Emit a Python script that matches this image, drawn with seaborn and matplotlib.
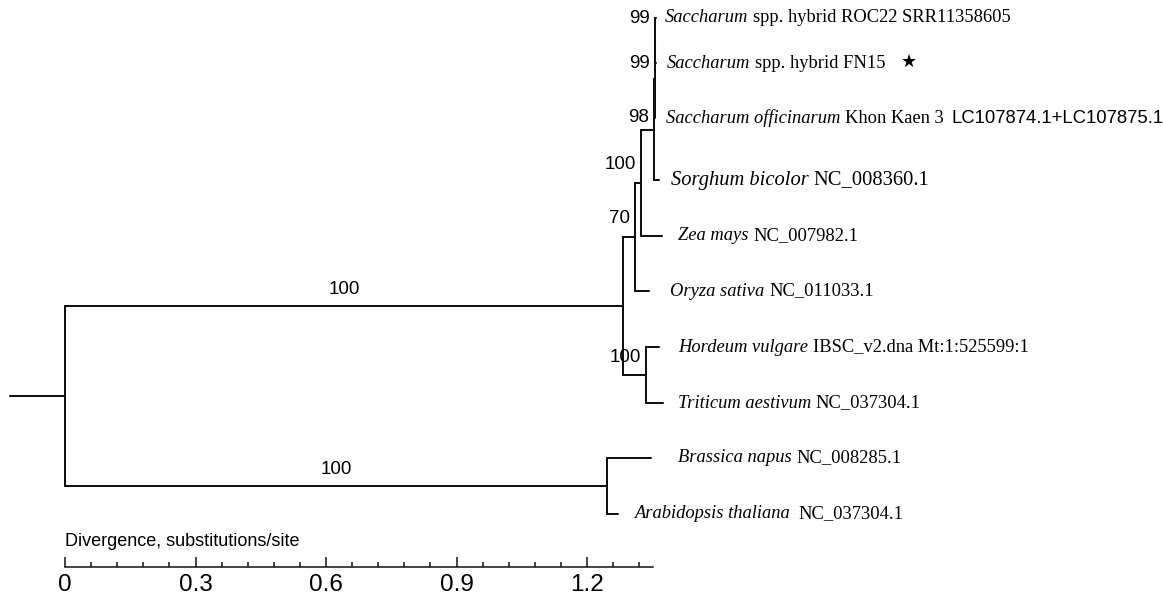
import numpy as np
import pandas as pd
import matplotlib
matplotlib.use("Agg")
import matplotlib.pyplot as plt
import seaborn as sns

# ---------------- data ----------------
leaf_ids = ["ROC22", "FN15", "KhonKaen3", "Sorghum", "Zea", "Oryza",
            "Hordeum", "Triticum", "Brassica", "Arabidopsis"]
leaf_italic = ["Saccharum", "Saccharum", "Saccharum officinarum", "Sorghum bicolor",
               "Zea mays", "Oryza sativa", "Hordeum vulgare", "Triticum aestivum",
               "Brassica napus", "Arabidopsis thaliana"]
leaf_roman = ["spp. hybrid ROC22 SRR11358605", "spp. hybrid FN15", "Khon Kaen 3",
              "NC_008360.1", "NC_007982.1", "NC_011033.1", "IBSC_v2.dna Mt:1:525599:1",
              "NC_037304.1", "NC_008285.1", "NC_037304.1"]
leaf_extra = ["", "", "LC107874.1+LC107875.1", "", "", "", "", "", "", ""]
leaf_marked = ["FN15"]

# tree: node, parent, branch length (substitutions/site), bootstrap
node_names = ["monocots", "dicots", "HT", "OZ", "ZS", "SS", "SK", "RF",
              "ROC22", "FN15", "KhonKaen3", "Sorghum", "Zea", "Oryza",
              "Hordeum", "Triticum", "Brassica", "Arabidopsis"]
node_parent = ["root", "root", "monocots", "monocots", "OZ", "ZS", "SS", "SK",
               "RF", "RF", "SK", "SS", "ZS", "OZ",
               "HT", "HT", "dicots", "dicots"]
branch_length = [1.283, 1.246, 0.053, 0.028, 0.014, 0.030, 0.001, 0.001,
                 0.001, 0.001, 0.001, 0.010, 0.048, 0.032,
                 0.030, 0.038, 0.101, 0.025]
bootstrap = [100, 100, 100, 70, 100, 98, 99, 99,
             None, None, None, None, None, None, None, None, None, None]
root_stem = 0.127

scale_ticks = [0, 0.3, 0.6, 0.9, 1.2]
scale_tick_labels = ["0", "0.3", "0.6", "0.9", "1.2"]
scale_minor_step = 0.06
scale_end = 1.352
scale_title = "Divergence, substitutions/site"

# ---------------- layout / style ----------------
W, H, DPI = 1163, 599, 100
X0_PX, PX_PER_UNIT = 65, 435.0
PT = 72.0 / DPI  # points per pixel
leaf_row_px = {"ROC22": 18, "FN15": 63, "KhonKaen3": 118, "Sorghum": 180, "Zea": 236,
               "Oryza": 291, "Hordeum": 347, "Triticum": 403, "Brassica": 458,
               "Arabidopsis": 514}

SANS = "Liberation Sans"
SERIF = "Liberation Serif"
boot_fs = 13.5
tick_fs = 17.5
title_fs = 13
leaf_fs_default = 13.3
leaf_fs = {"Sorghum": 14.8}
leaf_pad_px = {"ROC22": 9.5, "FN15": 11, "KhonKaen3": 11, "Sorghum": 12, "Zea": 16,
               "Oryza": 21, "Hordeum": 19, "Triticum": 15, "Brassica": 27, "Arabidopsis": 16}
leaf_gap_spaces = {"Arabidopsis": 2}
boot_dy_px = {"RF": 22, "SK": 16, "SS": 12}
line_col = "#111111"
lw = 1.45

sns.set_theme(style="white")
plt.rcParams["font.family"] = [SANS, "DejaVu Sans"]
plt.rcParams["text.color"] = "black"
plt.rcParams["xtick.color"] = "black"
plt.rcParams["xtick.labelcolor"] = "black"

# ---------------- compute tree coordinates ----------------
parent_of = dict(zip(node_names, node_parent))
blen = dict(zip(node_names, branch_length))
boot = dict(zip(node_names, bootstrap))
children = {}
for n, p in zip(node_names, node_parent):
    children.setdefault(p, []).append(n)

xpos = {"root": 0.0}
def set_x(n):
    for c in children.get(n, []):
        xpos[c] = xpos[n] + blen[c]
        set_x(c)
set_x("root")

ypos = {leaf: float(leaf_row_px[leaf]) for leaf in leaf_ids}
def set_y(n):
    if n in ypos:
        return ypos[n]
    ys = [set_y(c) for c in children[n]]
    ypos[n] = float(np.mean(ys))
    return ypos[n]
set_y("root")

segs = []
sid = 0
segs += [(sid, -root_stem, ypos["root"]), (sid, 0.0, ypos["root"])]; sid += 1
for n in node_names:
    p = parent_of[n]
    segs += [(sid, xpos[p], ypos[n]), (sid, xpos[n], ypos[n])]; sid += 1
for p, ch in children.items():
    ys = [ypos[c] for c in ch]
    segs += [(sid, xpos[p], min(ys)), (sid, xpos[p], max(ys))]; sid += 1
df = pd.DataFrame(segs, columns=["seg", "x", "y"])

# ---------------- figure ----------------
fig = plt.figure(figsize=(W / DPI, H / DPI), dpi=DPI)
ax = fig.add_axes([0, 0, 1, 1])
sns.lineplot(data=df, x="x", y="y", units="seg", estimator=None, sort=False,
             color=line_col, linewidth=lw, ax=ax, legend=False)
ax.set_xlim(-X0_PX / PX_PER_UNIT, (W - X0_PX) / PX_PER_UNIT)
ax.set_ylim(H, 0)
ax.axis("off")

# leaf labels
for i, leaf in enumerate(leaf_ids):
    fs = leaf_fs.get(leaf, leaf_fs_default)
    t = ax.annotate(leaf_italic[i], xy=(xpos[leaf], ypos[leaf]),
                    xytext=(leaf_pad_px[leaf] * PT, 0), textcoords="offset points",
                    ha="left", va="center", fontsize=fs, family=SERIF, style="italic")
    gap = 0.25 * fs * leaf_gap_spaces.get(leaf, 1)
    t = ax.annotate(leaf_roman[i], xy=(1, 0), xycoords=t, xytext=(gap, 0),
                    textcoords="offset points", ha="left", va="bottom",
                    fontsize=fs, family=SERIF)
    if leaf_extra[i]:
        t = ax.annotate(leaf_extra[i], xy=(1, 0), xycoords=t, xytext=(0.4 * fs, 0),
                        textcoords="offset points", ha="left", va="bottom",
                        fontsize=fs, family=SANS)
    if leaf in leaf_marked:
        ax.annotate("\u2605", xy=(1, 0.5), xycoords=t, xytext=(11, 1),
                    textcoords="offset points", ha="left", va="center",
                    fontsize=13, family="DejaVu Sans", color="black")

# bootstrap labels
for n in node_names:
    b = boot[n]
    if b is None:
        continue
    p = parent_of[n]
    br_px = (xpos[n] - xpos[p]) * PX_PER_UNIT
    if br_px > 100:
        ax.annotate(str(b), xy=((xpos[n] + xpos[p]) / 2, ypos[n]),
                    xytext=(0, 16 * PT), textcoords="offset points",
                    ha="center", va="center", fontsize=boot_fs, family=SANS)
    else:
        dy = boot_dy_px.get(n, 18)
        ax.annotate(str(b), xy=(xpos[n], ypos[n]),
                    xytext=(-5 * PT, dy * PT), textcoords="offset points",
                    ha="right", va="center", fontsize=boot_fs, family=SANS)

# scale bar
AXIS_PX = 567
ax2 = fig.add_axes([0, 1 - AXIS_PX / H, 1, 1e-4])
ax2.set_xlim(ax.get_xlim())
ax2.set_facecolor("none")
for s in ["top", "left", "right"]:
    ax2.spines[s].set_visible(False)
ax2.spines["bottom"].set_bounds(0, scale_end)
ax2.spines["bottom"].set_color(line_col)
ax2.spines["bottom"].set_linewidth(1.1)
ax2.set_yticks([])
ax2.set_xticks(scale_ticks)
ax2.set_xticklabels(scale_tick_labels, fontsize=tick_fs, family=SANS)
minor = [m for m in np.arange(0, scale_end + 1e-9, scale_minor_step)
         if min(abs(m - t) for t in scale_ticks) > 1e-6]
ax2.set_xticks(minor, minor=True)
ax2.tick_params(axis="x", which="major", direction="in", length=10 * PT, width=1.1,
                color=line_col, pad=5, bottom=True)
ax2.tick_params(axis="x", which="minor", direction="in", length=5 * PT, width=1.1,
                color=line_col, bottom=True)
ax2.annotate(scale_title, xy=(0, 0), xycoords=("data", "axes fraction"),
             xytext=(0, 25 * PT), textcoords="offset points", ha="left", va="center",
             fontsize=title_fs, family=SANS)

fig.savefig("out.png", dpi=DPI, facecolor="white")
